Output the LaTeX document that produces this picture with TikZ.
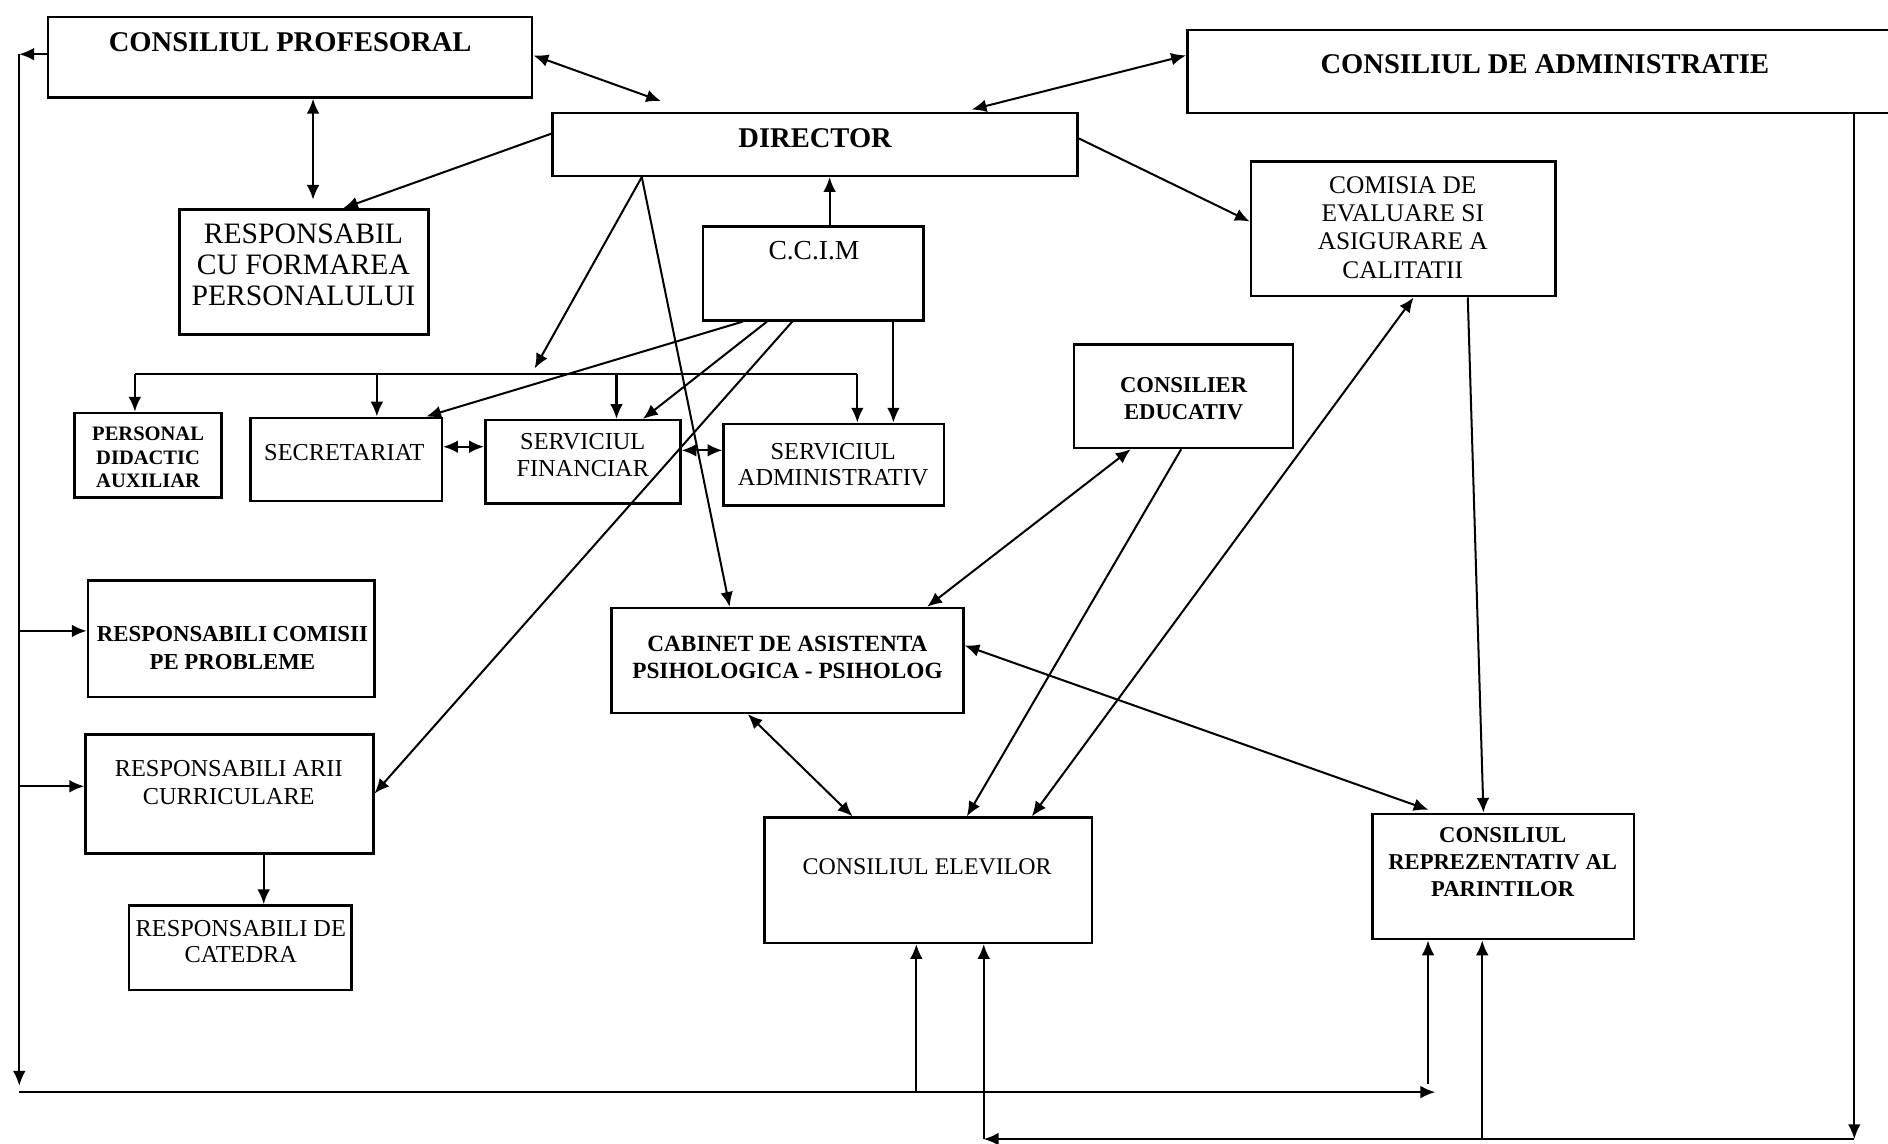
\documentclass[tikz,border=0pt]{standalone}
\usepackage{fontspec}
\setmainfont{Liberation Serif}
\usetikzlibrary{arrows.meta,fit}
\begin{document}
\begin{tikzpicture}[x=0.02cm,y=-0.02cm,
  box/.style={draw, line width=1.2pt, inner sep=0pt},
  con/.style={line width=0.95pt},
  ar/.style={con, -{Latex[length=7pt,width=6pt]}},
  ar2/.style={con, {Latex[length=7pt,width=6pt]}-{Latex[length=7pt,width=6pt]}},
  tx/.style 2 args={font=\fontsize{#1}{#2}\selectfont, align=center, inner sep=0pt},
  txb/.style 2 args={font=\fontsize{#1}{#2}\selectfont\bfseries, align=center, inner sep=0pt}]
\useasboundingbox (0,0) rectangle (1568,950);
\clip (0,0) rectangle (1568,950);

% boxes
\node[box, fit={(40,14) (442,81)}] (cp) {};
\node[txb={13.5}{16}] (cpt) at (241,35) {CONSILIUL PROFESORAL};
\node[box, fit={(459,94) (895,146)}] (dir) {};
\node[txb={13.5}{16}] (dirt) at (677,115) {DIRECTOR};
\node[box, fit={(986,25) (1600,94)}] (ca) {};
\node[txb={13.5}{16}] (cat) at (1283,53) {CONSILIUL DE ADMINISTRATIE};
\node[box, fit={(149,174) (356,278)}] (rcfp) {};
\node[tx={14}{14.8}] (rcfpt) at (252,220) {RESPONSABIL\\CU FORMAREA\\PERSONALULUI};
\node[box, fit={(584,188) (767,266)}] (ccim) {};
\node[tx={13}{15}] (ccimt) at (676,208) {C.C.I.M};
\node[box, fit={(1039,134) (1292,246)}] (cea) {};
\node[tx={12}{13.3}] (ceat) at (1165,189) {COMISIA DE\\EVALUARE SI\\ASIGURARE A\\CALITATII};
\node[box, fit={(62,343) (184,413)}] (pda) {};
\node[txb={9.7}{11.1}] (pdat) at (123,380) {PERSONAL\\DIDACTIC\\AUXILIAR};
\node[box, fit={(208,347) (367,416)}] (secr) {};
\node[tx={11.5}{13}] (secrt) at (286,376) {SECRETARIAT};
\node[box, fit={(403,349) (565,418)}] (sf) {};
\node[tx={11.5}{12.5}] (sft) at (484,378) {SERVICIUL\\FINANCIAR};
\node[box, fit={(601,352) (784,420)}] (sa) {};
\node[tx={11.5}{12.5}] (sat) at (692,386) {SERVICIUL\\ADMINISTRATIV};
\node[box, fit={(892,286) (1074,372)}] (ced) {};
\node[txb={10.7}{12.5}] (cedt) at (983,331) {CONSILIER\\EDUCATIV};
\node[box, fit={(73,482) (311,579)}] (rcp) {};
\node[txb={10.8}{13}] (rcpt) at (193,538) {RESPONSABILI COMISII\\PE PROBLEME};
\node[box, fit={(71,610) (310,709)}] (rac) {};
\node[tx={11.5}{13}] (ract) at (190,650) {RESPONSABILI ARII\\CURRICULARE};
\node[box, fit={(107,752) (292,822)}] (rdc) {};
\node[tx={11.5}{12.5}] (rdct) at (200,782) {RESPONSABILI DE\\CATEDRA};
\node[box, fit={(508,505) (800,592)}] (cab) {};
\node[txb={11}{12.5}] (cabt) at (654,546) {CABINET DE ASISTENTA\\PSIHOLOGICA - PSIHOLOG};
\node[box, fit={(635,679) (907,783)}] (cel) {};
\node[tx={11.3}{13}] (celt) at (770,720) {CONSILIUL ELEVILOR};
\node[box, fit={(1140,676) (1357,780)}] (crp) {};
\node[txb={10.7}{12.8}] (crpt) at (1248,716) {CONSILIUL\\REPREZENTATIV AL\\PARINTILOR};

% free ends
\coordinate (dtl) at (549,84);
\coordinate (dtr) at (807,91);
\coordinate (busL) at (112,311);
\coordinate (busR) at (712,311);
\coordinate (busD) at (444,306);
\coordinate (lt) at (16,45);
\coordinate (lb) at (16,907);
\coordinate (hr) at (1192,907);
\coordinate (rb) at (1540,946);
\coordinate (hl) at (817,946);

% top connectors
\draw[ar2] (cp.east |- 0,46) -- (dtl);
\draw[ar2, shorten >=4pt] (260,0 |- cp.south) -- (260,0 |- rcfp.north);
\draw[ar] (dir.west |- 0,111) -- (285,0 |- rcfp.north);
\draw[ar2] (ca.west |- 0,46) -- (dtr);
\draw[ar] (dir.east |- 0,115) -- (cea.west |- 0,184);
\draw[ar] (689,0 |- ccim.north) -- (689,0 |- dir.south);
\draw[ar] (533,0 |- dir.south) -- (busD);
\draw[ar] (533,0 |- dir.south) -- (606,0 |- cab.north);

% bus
\draw[con] (busL) -- (busR);
\draw[ar] (busL) -- (busL |- pda.north);
\draw[ar] (313,311) -- (313,0 |- secr.north);
\draw[ar] (512,311) -- (512,0 |- sf.north);
\draw[ar] (busR) -- (busR |- sa.north);

% CCIM connectors
\draw[ar] (617,0 |- ccim.south) -- (354,0 |- secr.north);
\draw[ar] (637,0 |- ccim.south) -- (534,0 |- sf.north);
\draw[ar] (658,0 |- ccim.south) -- (rac.east |- 0,659);
\draw[ar] (742,0 |- ccim.south) -- (742,0 |- sa.north);

\draw[ar2] (secr.east |- 0,371) -- (sf.west |- 0,371);
\draw[ar2] (sf.east |- 0,374) -- (sa.west |- 0,374);

% middle
\draw[ar2] (939,0 |- ced.south) -- (770,0 |- cab.north);
\draw[ar] (981,0 |- ced.south) -- (803,0 |- cel.north);
\draw[ar2] (1174,0 |- cea.south) -- (857,0 |- cel.north);
\draw[ar] (1219,0 |- cea.south) -- (1232,0 |- crp.north);
\draw[ar2, shorten >=4pt] (cab.east |- 0,536) -- (1193,0 |- crp.north);
\draw[ar2] (621,0 |- cab.south) -- (708,0 |- cel.north);

% left loop
\draw[ar] (cp.west |- lt) -- (lt);
\draw[ar] (lt) -- ([yshift=3pt]lb);
\draw[ar] (lb) -- (hr);
\draw[ar] (lt |- 0,524) -- (rcp.west |- 0,524);
\draw[ar] (lt |- 0,653) -- (rac.west |- 0,653);
\draw[ar] (rac.south -| 219,0) -- (219,0 |- rdc.north);
\draw[ar] (761,0 |- lb) -- (761,0 |- cel.south);
\draw[ar] (1186,900) -- (1186,0 |- crp.south);

% right loop
\draw[ar] (1540,0 |- ca.south) -- (rb);
\draw[ar] (rb) -- (hl);
\draw[ar] (hl) -- (hl |- cel.south);
\draw[ar] (1231,0 |- rb) -- (1231,0 |- crp.south);
\end{tikzpicture}
\end{document}
